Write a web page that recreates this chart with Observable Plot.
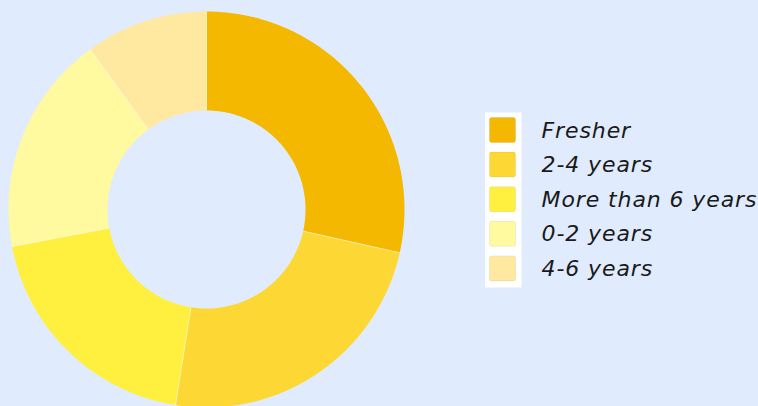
<!DOCTYPE html>
<html><head><meta charset="utf-8">
<script src="https://cdn.jsdelivr.net/npm/d3@7"></script>
<script src="https://cdn.jsdelivr.net/npm/@observablehq/plot@0.6"></script>
<style>
html,body{margin:0;padding:0;background:#e0ecfd;}
#chart{width:758px;height:406px;overflow:hidden;}
</style></head>
<body><div id="chart"></div>
<script>
const categories = ["Fresher", "2-4 years", "More than 6 years", "0-2 years", "4-6 years"];
const values = [28.5, 24, 19.5, 18, 10];
const colors = ["#f4b800", "#fdd835", "#fff03f", "#fff9a0", "#ffe8a0"];

const W = 758, H = 406;
const cx = 206, cy = 209, rOuter = 198, rInner = 99;
const total = d3.sum(values);
const pts = [];
const seps = [];
let start = 0;
categories.forEach((c, i) => {
  const a0 = start, a1 = start + values[i] / total * 2 * Math.PI;
  const n = Math.max(8, Math.ceil((a1 - a0) / 0.01));
  for (let k = 0; k <= n; k++) {
    const a = a0 + (a1 - a0) * k / n;
    pts.push({cat: c, x: cx + rOuter * Math.sin(a), y: cy - rOuter * Math.cos(a)});
  }
  for (let k = n; k >= 0; k--) {
    const a = a0 + (a1 - a0) * k / n;
    pts.push({cat: c, x: cx + rInner * Math.sin(a), y: cy - rInner * Math.cos(a)});
  }
  seps.push({cat: c, x1: cx + rInner * Math.sin(a0), y1: cy - rInner * Math.cos(a0), x2: cx + rOuter * Math.sin(a0), y2: cy - rOuter * Math.cos(a0)});
  start = a1;
});

const legendX = 489.5, legendY0 = 130, legendStep = 34.6;
const legend = categories.map((c, i) => ({cat: c, y: legendY0 + i * legendStep}));

const plot = Plot.plot({
  width: W, height: H,
  margin: 0,
  style: {background: "transparent", overflow: "visible", letterSpacing: "0.9px"},
  x: {domain: [0, W], range: [0, W], axis: null},
  y: {domain: [0, H], range: [0, H], axis: null},
  color: {domain: categories, range: colors},
  marks: [
    Plot.line(pts, {x: "x", y: "y", z: "cat", fill: "cat", stroke: "none", curve: "linear-closed"}),
    Plot.link(seps, {x1: "x1", y1: "y1", x2: "x2", y2: "y2", stroke: "white", strokeOpacity: 0.45, strokeWidth: 1}),
    Plot.rect([{}], {x1: () => 485, x2: () => 521.5, y1: () => 112.5, y2: () => 287.5, fill: "white"}),
    Plot.rect(legend, {x1: () => legendX, x2: () => legendX + 26, y1: d => d.y - 12.5, y2: d => d.y + 12.5, fill: "cat", stroke: "#000", strokeOpacity: 0.06, rx: 2}),
    Plot.text(legend, {x: () => 541, y: "y", text: "cat", textAnchor: "start", fontSize: 22, fontStyle: "italic", fill: "#1a1a1a", fontFamily: "DejaVu Sans, sans-serif"})
  ]
});
document.getElementById("chart").appendChild(plot);
</script>
</body></html>
